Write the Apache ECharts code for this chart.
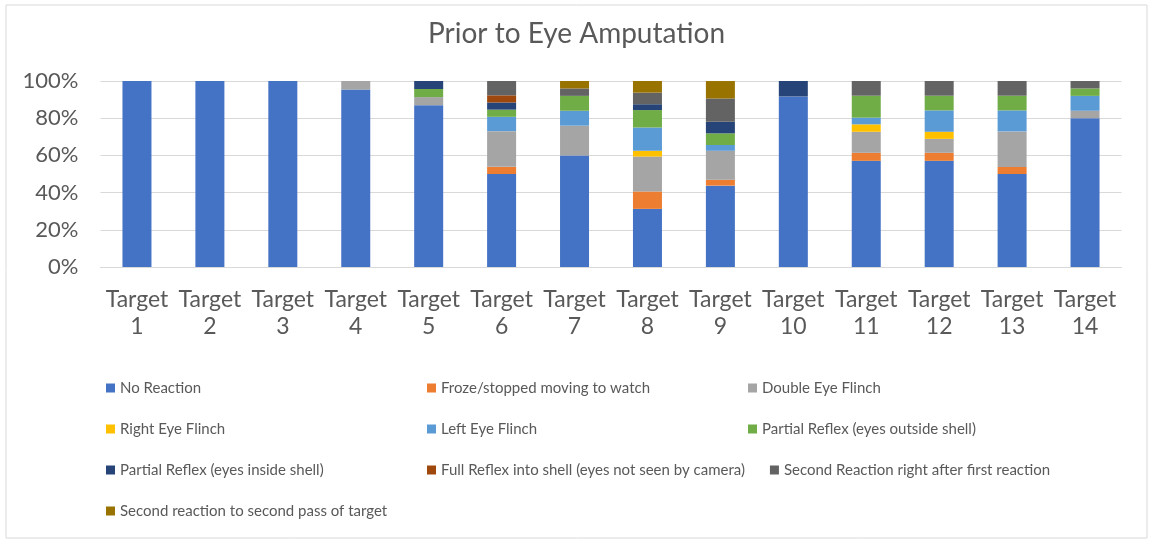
<!DOCTYPE html>
<html>
<head>
<meta charset="utf-8">
<script src="https://cdn.jsdelivr.net/npm/echarts@6/dist/echarts.min.js"></script>
<style>
  html, body { margin: 0; padding: 0; background: #fff; }
  #chart { width: 1153px; height: 544px; }
</style>
</head>
<body>
<div id="chart"></div>
<script>
// categories
const targets = ["Target\n1", "Target\n2", "Target\n3", "Target\n4", "Target\n5", "Target\n6", "Target\n7",
  "Target\n8", "Target\n9", "Target\n10", "Target\n11", "Target\n12", "Target\n13", "Target\n14"];

// percent of responses per target
const noReaction     = [100, 100, 100, 95.45, 87, 50, 60, 31.25, 43.75, 91.7, 57.1, 57.1, 50, 80];
const froze          = [0, 0, 0, 0, 0, 3.85, 0, 9.375, 3.125, 0, 4.3, 4.3, 3.8, 0];
const doubleFlinch   = [0, 0, 0, 4.55, 4.35, 19.2, 16, 18.75, 15.6, 0, 11.3, 7.5, 19.1, 4];
const rightFlinch    = [0, 0, 0, 0, 0, 0, 0, 3.125, 0, 0, 4.0, 3.8, 0, 0];
const leftFlinch     = [0, 0, 0, 0, 0, 7.7, 8, 12.5, 3.125, 0, 3.6, 11.5, 11.3, 8];
const partialOutside = [0, 0, 0, 0, 4.35, 3.85, 8, 9.375, 6.25, 0, 11.8, 7.9, 7.9, 4];
const partialInside  = [0, 0, 0, 0, 4.35, 3.85, 0, 3.125, 6.25, 8.3, 0, 0, 0, 0];
const fullReflex     = [0, 0, 0, 0, 0, 3.85, 0, 0, 0, 0, 0, 0, 0, 0];
const secondRight    = [0, 0, 0, 0, 0, 7.7, 4, 6.25, 12.5, 0, 7.9, 7.9, 7.9, 4];
const secondPass     = [0, 0, 0, 0, 0, 0, 4, 6.25, 9.375, 0, 0, 0, 0, 0];

const yTicks = [0, 20, 40, 60, 80, 100];

const seriesDefs = [
  ["No Reaction", noReaction, "#4472C4"],
  ["Froze/stopped moving to watch", froze, "#ED7D31"],
  ["Double Eye Flinch", doubleFlinch, "#A5A5A5"],
  ["Right Eye Flinch", rightFlinch, "#FFC000"],
  ["Left Eye Flinch", leftFlinch, "#5B9BD5"],
  ["Partial Reflex (eyes outside shell)", partialOutside, "#70AD47"],
  ["Partial Reflex (eyes inside shell)", partialInside, "#264478"],
  ["Full Reflex into shell (eyes not seen by camera)", fullReflex, "#9E480E"],
  ["Second Reaction right after first reaction", secondRight, "#636363"],
  ["Second reaction to second pass of target", secondPass, "#997300"],
];

const font = "Lato, 'Open Sans', sans-serif";
const textColor = "#595959";

const myChart = echarts.init(document.getElementById("chart"), null, { renderer: "canvas" });

myChart.setOption({
  animation: false,
  textStyle: { fontFamily: font },
  title: {
    text: "Prior to Eye Amputation",
    left: "center",
    top: 20,
    padding: 0,
    textStyle: { fontFamily: font, fontSize: 28, fontWeight: "normal", color: textColor },
  },
  graphic: [{
    type: "rect",
    shape: { x: 6, y: 5, width: 1141, height: 533 },
    style: { fill: "none", stroke: "#d9d9d9", lineWidth: 1 },
    silent: true,
  }],
  grid: { left: 100.5, right: 31.5, top: 81, height: 186 },
  legend: {
    left: 106,
    top: 380,
    width: 1000,
    padding: 0,
    itemWidth: 9,
    itemHeight: 9,
    itemGap: 25,
    icon: "rect",
    textStyle: { fontFamily: font, fontSize: 15, color: textColor, width: 282, lineHeight: 16 },
    data: seriesDefs.map(d => d[0]),
  },
  xAxis: {
    type: "category",
    data: targets,
    axisLine: { lineStyle: { color: "#d9d9d9" } },
    axisTick: { show: false },
    axisLabel: { fontFamily: font, fontSize: 23, color: textColor, lineHeight: 27, margin: 19, interval: 0 },
  },
  yAxis: {
    type: "value",
    min: yTicks[0],
    max: yTicks[yTicks.length - 1],
    interval: 20,
    axisLine: { show: false },
    axisTick: { show: false },
    axisLabel: { fontFamily: font, fontSize: 22, color: textColor, margin: 22, formatter: "{value}%" },
    splitLine: { lineStyle: { color: "#d9d9d9", width: 1 } },
  },
  series: seriesDefs.map(([name, data, color]) => ({
    name,
    type: "bar",
    stack: "total",
    barWidth: 29,
    data,
    itemStyle: { color },
  })),
});
</script>
</body>
</html>
